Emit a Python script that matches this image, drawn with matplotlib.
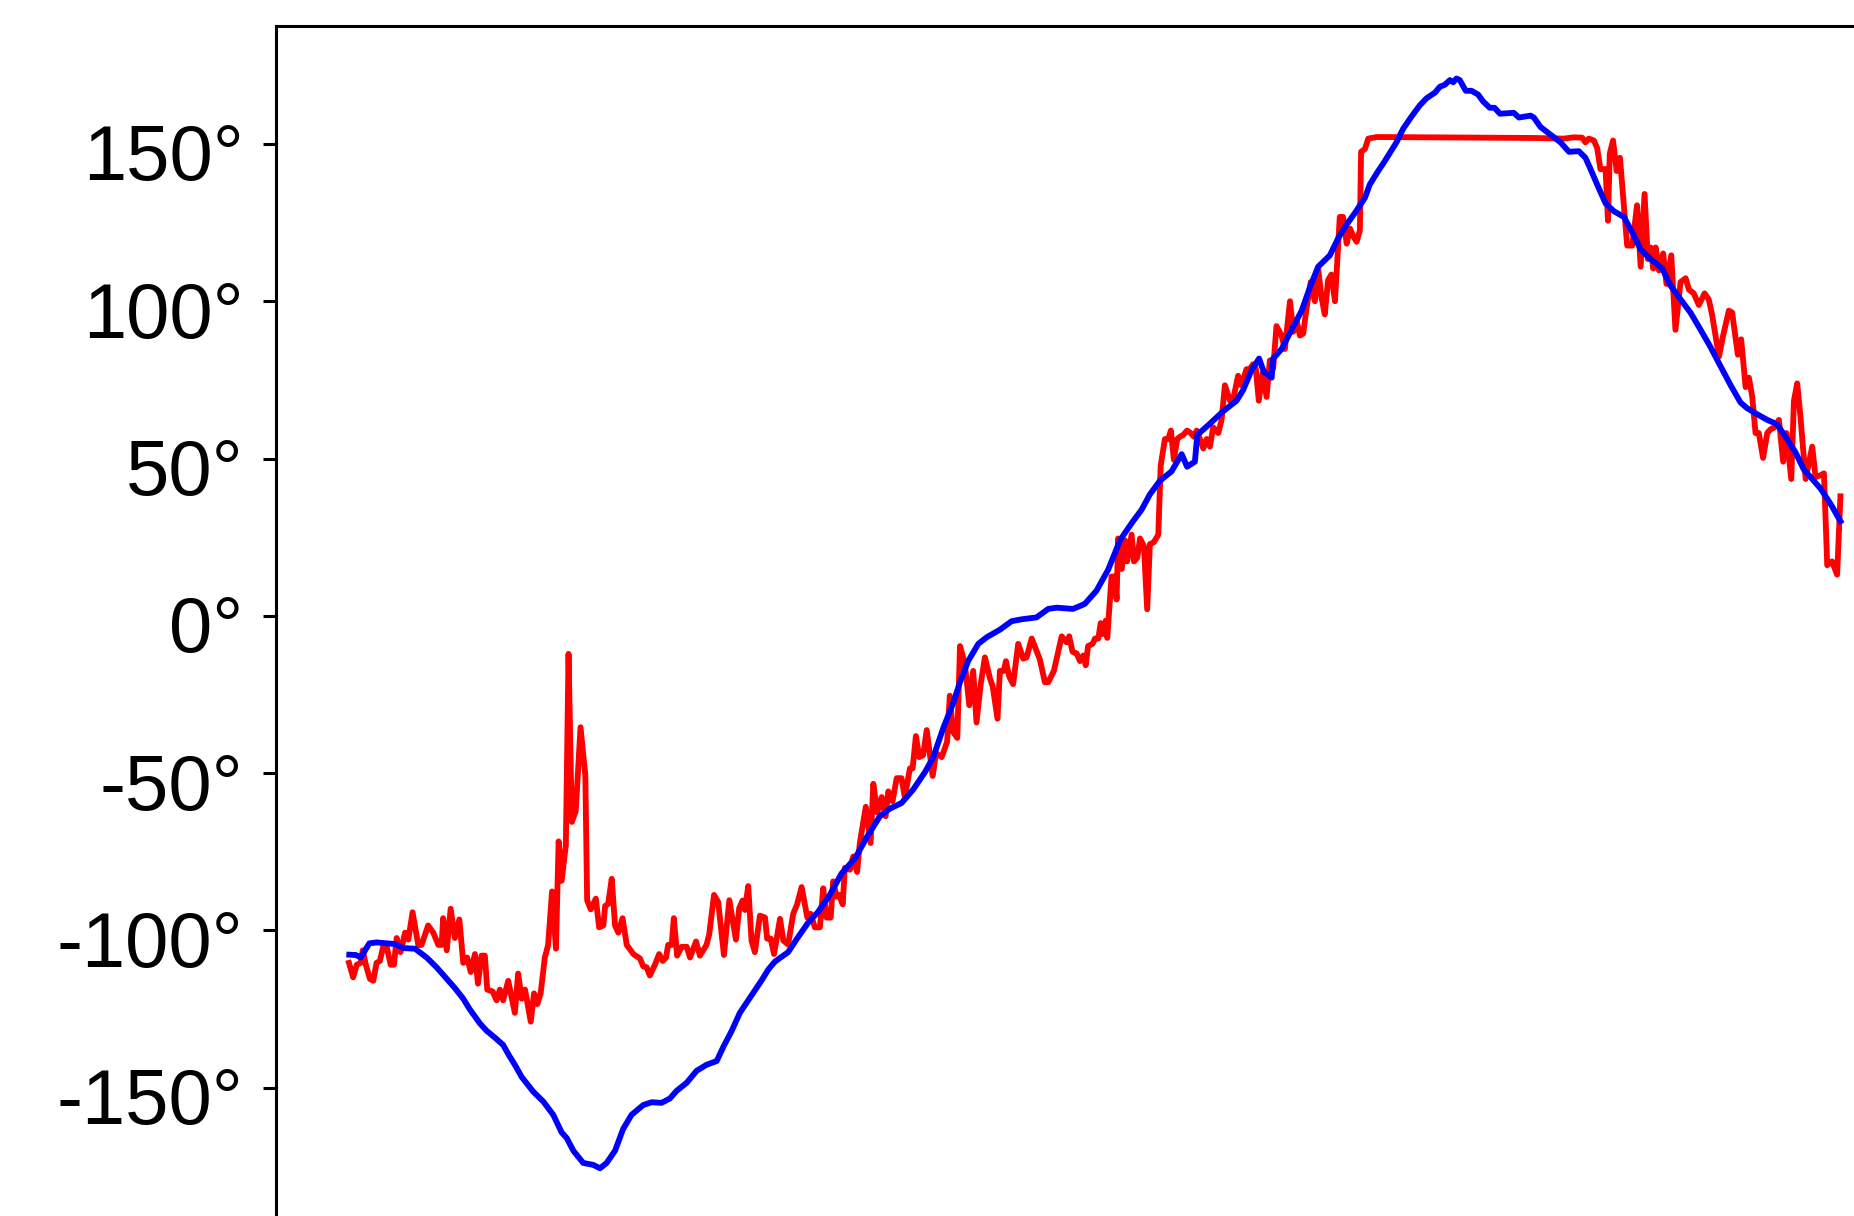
import matplotlib
matplotlib.use("Agg")
import matplotlib.pyplot as plt
from matplotlib.transforms import ScaledTranslation

# sample index / angle (deg)
red_t = [0, 1.4, 2.6, 3.9, 4.6, 5.7, 7, 8.1, 9.2, 10.3, 11.4, 12.6, 13.9, 15, 15.9, 17.2, 18.7, 19.8,
         21.2, 23.1, 24.2, 26.4, 28.1, 29.8, 30.9, 31.4, 32.6, 33.9, 35.3, 36.8, 38.1, 39.4, 40.6, 42,
         43, 44.2, 45.3, 46.1, 47.9, 49.2, 50.3, 51.4, 53.1, 55.3, 56.4, 57.6, 58.7, 60.6, 61.7, 62.8,
         63.9, 65.3, 66.4, 67.7, 69, 69.9, 70.9, 72.3, 73.2, 74.3, 75.6, 77.2, 78.8, 79.4, 80.6, 82.3,
         83.4, 84.8, 85.4, 86.4, 87.6, 88.7, 89.8, 91.2, 92.6, 94.8, 97, 98.1, 99.2, 100.3, 102, 103.4,
         104.6, 105.7, 106.4, 107.6, 108.3, 109.4, 110.9, 112.6, 113.7, 115.7, 117, 119.2, 120.1, 121.7,
         123.1, 125, 126.8, 129,
         130.1, 131.2, 132, 133.1, 134.2, 135.3, 137, 138.7, 139.4, 140.6, 141.7, 143.7, 144.8, 146.4,
         148.1, 149.4, 150.9, 152.8, 153.9, 155.3, 157, 158.1, 159.2, 160.6, 161.4, 162.6, 163.4, 164.6,
         165.3, 167, 168.1, 169.4, 170.3, 172.3, 173.9, 174.8, 176.1, 177.6, 178.9, 179.8, 181.2, 182.6,
         184.2, 185.3, 187, 187.9, 189, 190.1, 191.4, 192.6, 194.6, 195.7, 197.6, 199.4, 200.3, 201.4,
         202.8, 203.7, 205.3, 206.8, 208.1, 209.2, 210.6, 212, 213.7, 214.6, 216.2, 217, 218.3, 219,
         220.1, 221.4, 223.1, 224.8, 225.9, 227.6, 230.3, 232, 233.1, 235, 237.6, 239.2, 240.1, 241.2,
         242.6, 243.7, 244.8, 245.6, 246.4, 247.9, 248.7, 249.8, 250.6,
         251.2, 252.3, 252.8, 254.2, 255.3, 255.9, 256.4, 257.6, 258.7, 259.4, 260.9, 261.7, 262.8,
         263.7, 265, 266.1, 267, 268.3, 269.8, 270.6, 272, 273.1, 274, 275, 276.1, 277, 278.1, 279.4,
         280.6, 281.7, 282.6, 283.7, 284.8, 285.9, 287, 288.1, 289.8, 290.9, 292, 293.7, 294.8, 296.4,
         297.5, 298.3, 299.2, 300.3, 301.4, 302.3, 303.3, 304.6, 305.9, 307, 308.1, 309.2, 310.9, 312,
         313.7, 314.8, 315.9, 317, 318.1, 319.2, 320.6, 322, 323.1, 324.2, 325.3, 326.4, 327.5, 328.7,
         330.3, 331.4, 332.6, 333.7, 334.8, 335.9, 337, 337.4, 338.7, 339.8, 342.6, 360, 380, 395,
         405, 408.3, 411.1, 412.2, 413.3, 415, 416.1, 417.2, 418.9, 419.7, 420.3, 421.4, 422.6, 423.7,
         426.1, 427.8, 429.4, 430.6, 431.9, 433, 433.9, 434.8, 435.6, 436.7, 438.1, 439.2, 440.8, 442.2,
         443.9, 445.6, 446.7, 448.3, 450, 451.9, 453.3, 454.4, 456.7, 458.1, 460, 461.1, 463, 464.1,
         465.6, 466.7, 467.8, 468.9, 470, 471.4, 472.8, 473.9, 475.2, 476.7, 478.1, 479.2, 480.8, 481.7,
         482.8, 483.9, 485.6, 487.8, 488.9, 490.6, 491.7, 492.8, 494.4, 496.1, 497.2]
red_deg = [-110.3, -114.9, -110.9, -110.3, -106.3, -111.2, -115.4, -116, -110.3, -109.7, -105.2, -105.2,
           -110.9, -110.9, -102.4, -106.9, -100.7, -102.9, -94.2, -104.6, -104.6, -98.4, -100.7, -104.6,
           -104.6, -96.1, -106.3, -93.1, -102.4, -96.5, -110.3, -108.6, -113.2, -107.5, -116.9, -108,
           -108, -118.8, -119.4, -122.2, -118.8, -122.2, -116, -126.2, -113.7, -121.7, -118.8, -129,
           -120, -123.4, -120, -108.6, -104.6, -87.6, -105.8, -71.7, -84.2, -72.9, -12.1, -65.5, -62.1,
           -35.4, -50.7, -90.4, -93.3, -89.9, -99, -98.4, -92.2, -91.6, -83.6, -98.4, -100.7, -96.1,
           -104.6, -107.5, -108.9, -111.4, -111.7, -114.3, -110.9, -107.5, -109.7, -108.6, -104.6,
           -104.6, -96.1, -108, -105.2, -105.2, -108.6, -103.5, -108, -104.6, -101.2, -88.7, -91,
           -107.8, -90.4, -102.9,
           -92.9, -90.5, -93.5, -85.9, -103.2, -106.9, -95.3, -95.9, -102.6, -102.6, -107.5, -96.3,
           -103.2, -104.5, -94.7, -91.7, -86.2, -95.9, -94.7, -99, -99, -86.6, -95.9, -95.9, -84.4,
           -89.3, -88.7, -91.7, -80.1, -80.7, -76.5, -81.4, -72.2, -60.7, -72.2, -53.4, -62.5, -57.6,
           -63.7, -55.8, -58.9, -51.6, -51.6, -57.6, -48.5, -48.5, -38.2, -44.9, -44.3, -36.3, -50.9,
           -43.6, -44.9, -40, -25.4, -36.9, -38.8, -9.6, -15.1, -28.4, -17.5, -33.9, -21.7, -13.2,
           -19.9, -22.4, -32.7, -17.5, -17.5, -14.4, -19.3, -21.7, -8.9, -13.6, -13.2, -7.2, -13.8,
           -21.1, -21.1, -17.5, -6.5, -8.4, -6.5, -11.4, -12, -14.4, -12.6, -15.7, -9.6, -8.9, -7.2,
           -7.2, -2.3,
           -5.8, -1.5, -7, 12.5, 12.5, 5.2, 24.6, 14.9, 24, 17.3, 25.8, 17.3, 18.5, 24.6, 22.2, 2.1,
           22.8, 23.4, 25.8, 47.7, 56.2, 56.2, 58.9, 49.6, 56.2, 56.9, 57.5, 58.9, 58.1, 56.9, 58.9,
           56.2, 53.2, 56.2, 53.8, 59.9, 58.1, 62.3, 73.3, 68.4, 69, 76.3, 73.3, 75.7, 78.4, 78.4, 80,
           78.7, 68.4, 77.2, 69.6, 81.2, 78.7, 92.1, 89.1, 84.8, 100, 90.3, 94, 89.1, 89.7, 97.6,
           106.1, 100, 110.4, 101.3, 95.8, 106.7, 108.5, 100, 126.8, 126.8, 118.3, 123.1, 120.7,
           118.9, 122.5, 147.5, 148.4, 151.7, 152.2, 152.1, 152.0, 151.9,
           151.7, 152.1, 152, 150.5, 151.7, 151.1, 148.7, 142, 142, 125.6, 146.9, 151.1, 141.4, 145.6,
           117.7, 117.7, 130.5, 111, 134.1, 113.4, 117.1, 110.4, 117.1, 109.8, 115.2, 105.5, 114.6,
           90.9, 106.1, 107.3, 103.7, 102.5, 98.8, 102.5, 100.6, 95.8, 82.4, 89.1, 97, 96.4, 83, 87.9,
           72.7, 75.7, 69.6, 58.1, 58.1, 50.2, 58.1, 59.3, 59.9, 62.3, 49, 58.1, 43.5, 68.4, 73.9,
           62.9, 43.5, 53.8, 44.1, 44.7, 45.3, 16.1, 17.3, 13.1, 38]

blue_t = [0.1, 2.3, 3.9, 6.8, 9.2, 12.6, 15.3, 18.1, 22, 25.9, 29.2, 32.6, 35.3, 38.1, 40.3, 43.7, 45.9,
          48.7, 51.4, 53.1, 55.3, 57.6, 61.4, 64.8, 68.1, 70.9, 72.6, 74.8, 78.1, 81.4, 83.7, 85.9,
          88.7, 91.4, 94.2, 98.1, 100.9, 104.2, 107, 109.2, 112.6, 115.9, 119.2, 122.6, 124.8, 127.6,
          130.3, 137.6, 139.8, 142, 146.4, 149.8, 153.1, 156.4, 160.3, 164.2, 168.7, 172.6, 177,
          180.3, 184.2, 188.1, 192, 194.8, 198.1, 201.4, 203.7, 206.4, 209.8, 212.6, 217, 220.9,
          224.2, 229.2, 233.1, 235.9, 241.4, 245.3, 249.2, 253.1, 257, 258.7, 261.4, 264.2, 267,
          270.3, 274.2, 277.6, 279.4, 282, 282.8, 287, 291.4, 295.9, 298.1, 300.9, 303.4, 305, 307.6,
          308.1, 310.9, 314.2, 317.6, 320.3, 323.1, 327, 329.8, 332.6, 335.3, 338.7, 340.3, 343.1,
          344.8, 347.6, 349.2, 351.4, 354.2, 357, 359.2, 362, 363.7, 365.3, 367, 368.1, 369.2, 370.3,
          372.3, 374.2, 376.4, 378.1, 380.3, 381.9, 383.7, 388.3, 390, 393.9, 395, 397.2, 400.6,
          403.9, 406.7, 410, 412.2, 413.9, 416.1, 418.9, 421.7, 425, 427.8, 430.6, 433.9, 437.8,
          440.6, 443.9, 447.2, 450.6, 453.9, 457.2, 460.6, 463.9, 466.1, 469.4, 472.8, 476.1, 479.4,
          482.2, 485, 487.8, 490.6, 493.9, 497.2]
blue_deg = [-107.7, -107.8, -108.6, -104.1, -103.8, -104.1, -104.3, -105.6, -105.8, -108.6, -111.7,
            -115.4, -118.3, -121.7, -125.1, -129.6, -131.9, -134.1, -136.4, -139.3, -142.7, -146.6,
            -151.2, -154.4, -158.6, -164.2, -166, -170, -173.9, -174.5, -175.6, -173.9, -170, -163.1,
            -158.6, -155.5, -154.6, -154.8, -153.4, -151, -148.4, -144.6, -142.7, -141.5, -137,
            -131.9, -126.2, -115.8, -112.4, -109.9, -106.9, -102, -97.5, -94.1, -88.7, -81.9, -77.1,
            -70.4, -63.7, -61.3, -59.5, -55.2, -49.7, -44.9, -35.7, -27.8, -21.1, -14.4, -8.9, -6.8,
            -4.4, -1.7, -1.1, -0.5, 2.2, 2.6, 2.2, 3.8, 8, 14.7, 23.9, 26.4, 30.1, 33.7, 38.6, 42.9,
            45.9, 51.4, 47.4, 49, 57.5, 61.1, 65, 68.4, 71.8, 78.1, 81.8, 77.5, 75.7, 81.8, 84.8,
            90.9, 97, 104.3, 111, 114.6, 120.1, 124.4, 128, 132.9, 137.1, 141.4, 143.8, 148.1, 150.5,
            154.8, 158.7, 162.3, 164.5, 166.3, 168.2, 168.8, 170.3, 169.6, 170.8, 170.3, 166.9,
            166.9, 165.7, 163.5, 161.5, 161.5, 159.6, 159.9, 158.4, 159, 158.4, 155.4, 152.9, 150.5,
            147.5, 147.7, 145.6, 142, 137.1, 131.1, 128.6, 126.8, 121.9, 116.5, 113.4, 110.4, 104.9,
            100.6, 96.4, 90.9, 85.4, 79.4, 73.3, 67.8, 66, 64.1, 62.3, 60.9, 56.2, 52, 46.5, 43.5,
            40.4, 35.6, 30.1]

y_ticks = [-150, -100, -50, 0, 50, 100, 150]
y_labels = [f"{v}°" for v in y_ticks]

fig = plt.figure(figsize=(18.54, 12.16), dpi=100)
# axes runs off the right and bottom edge of the canvas, like the cropped original
ax = fig.add_axes([0.1489, -0.0239, 0.892, 1.0028])

ax.plot(red_t, red_deg, color="red", lw=4.2)
ax.plot(blue_t, blue_deg, color="blue", lw=4.2)

ax.set_xlim(-24.3, 527)
ax.set_ylim(-200, 187.6)
ax.set_xticks([])
ax.set_yticks(y_ticks)
ax.set_yticklabels(y_labels, fontfamily="Liberation Sans", fontsize=56)
ax.tick_params(axis="y", length=9.4, width=2.2, pad=14)
for s in ax.spines.values():
    s.set_linewidth(2.2)

# labels sit a little below their ticks in the original
shift = ScaledTranslation(0, -0.08, fig.dpi_scale_trans)
for lab in ax.get_yticklabels():
    lab.set_transform(lab.get_transform() + shift)

fig.savefig("out.png", dpi=100)
